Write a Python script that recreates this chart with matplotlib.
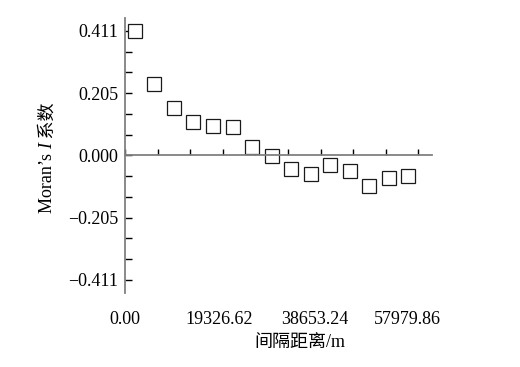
import numpy as np
import matplotlib
matplotlib.use('Agg')
import matplotlib.pyplot as plt
from matplotlib.ticker import FixedLocator
from matplotlib.transforms import ScaledTranslation, offset_copy

plt.rcParams['font.family'] = ['Liberation Serif', 'Noto Sans CJK SC']

lag_dist = [1933, 5798, 9663, 13529, 17394, 21260, 25125, 28990,
            32856, 36721, 40587, 44452, 48317, 52183, 56048]
moran_i = [0.411, 0.236, 0.157, 0.111, 0.098, 0.092, 0.027, -0.001,
           -0.044, -0.063, -0.032, -0.051, -0.101, -0.076, -0.068]

x_major = [0.0, 19326.62, 38653.24, 57979.86]
x_labels = ['0.00', '19326.62', '38653.24', '57979.86']
y_major = [-0.411, -0.205, 0.0, 0.205, 0.411]
y_labels = ['\u22120.411', '\u22120.205', '0.000', '0.205', '0.411']


def main():
    fig = plt.figure(figsize=(5.2, 3.67), dpi=100)
    ax = fig.add_axes([0.2404, 0.2008, 0.5904, 0.7492])

    ax.plot(lag_dist, moran_i, linestyle='none', marker='s', markersize=10.5,
            markerfacecolor='white', markeredgecolor='#1a1a1a', markeredgewidth=0.9)

    ax.set_xlim(0, 60700)
    ax.set_ylim(-0.455, 0.452)

    for s in ['top', 'right']:
        ax.spines[s].set_visible(False)
    ax.spines['left'].set_color('#808080')
    ax.spines['left'].set_linewidth(1.3)
    ax.spines['bottom'].set_position(('data', 0))
    ax.spines['bottom'].set_color('#808080')
    ax.spines['bottom'].set_linewidth(1.3)

    step_x = x_major[1] / 3
    ax.xaxis.set_major_locator(FixedLocator(x_major))
    ax.xaxis.set_minor_locator(FixedLocator([step_x * k for k in range(1, 10) if k % 3]))
    ax.set_xticklabels(x_labels)
    step_y = y_major[-1] / 6
    ax.yaxis.set_major_locator(FixedLocator(y_major))
    ax.yaxis.set_minor_locator(FixedLocator([step_y * k for k in range(-6, 7) if k % 3]))
    ax.set_yticklabels(y_labels)

    ax.tick_params(axis='x', which='both', direction='in', length=4, width=1,
                   color='black', labelsize=13, pad=112)
    ax.tick_params(axis='y', which='both', direction='in', length=5, width=1,
                   color='black', labelsize=13, pad=5)

    # labels in the original sit a little left of their ticks
    for lab, dx in zip(ax.get_xticklabels(), [0, -3.5, -5.5, -11]):
        lab.set_transform(lab.get_transform() + ScaledTranslation(dx / 100, 0, fig.dpi_scale_trans))

    fig.text(300 / 520, 1 - 342.5 / 367, '间隔距离/m', ha='center', va='center', fontsize=13)

    # y label: "Moran’s " + italic I + " 系数", stacked bottom to top
    renderer = fig.canvas.get_renderer()
    parts = [('Moran\u2019s ', 'normal'), ('I', 'italic'), (' 系数', 'normal')]
    widths = []
    for txt, style in parts:
        t = fig.text(0, 0, txt, fontsize=13, style=style, rotation=90)
        widths.append(t.get_window_extent(renderer).height)
        t.remove()
    total = sum(widths)
    y0 = 1 - 158 / 367
    shift = -total / 2
    for (txt, style), w in zip(parts, widths):
        tr = offset_copy(fig.transFigure, fig=fig, x=0, y=shift * 72 / fig.dpi, units='points')
        fig.text(48 / 520, y0, txt, fontsize=13, style=style, rotation=90,
                 ha='center', va='bottom', rotation_mode='default', transform=tr)
        shift += w

    fig.savefig('out.png', dpi=100)


if __name__ == "__main__":
    main()
